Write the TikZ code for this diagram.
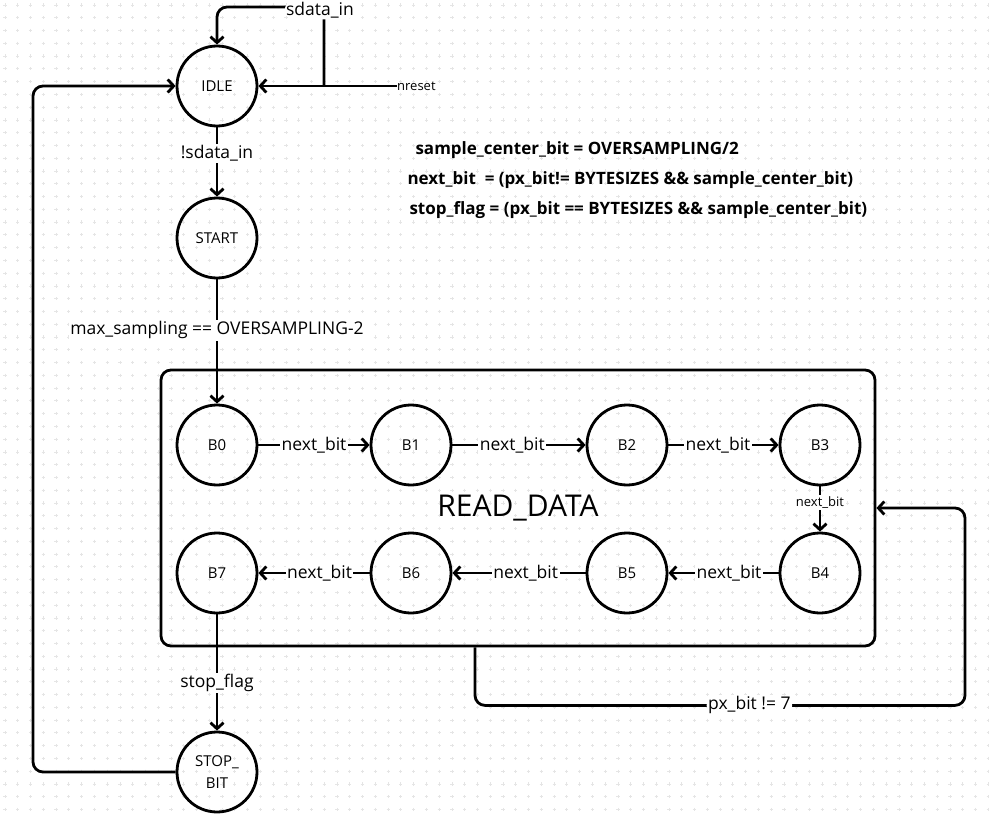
\documentclass[tikz,border=0pt]{standalone}
\usepackage{fontspec}
\setmainfont{Open Sans}
\usetikzlibrary{arrows.meta,calc}

\begin{document}
\begin{tikzpicture}[x=1pt,y=-1pt,
    state/.style={circle,draw,line width=2.8pt,minimum size=80pt,inner sep=0pt,align=center,font=\fontsize{15}{22}\selectfont},
    edge/.style={line width=2.8pt,-{Straight Barb[length=6pt,width=13pt]}},
    lbl/.style={fill=white,inner sep=1.5pt,font=\fontsize{17.5}{20}\selectfont},
    eqn/.style={anchor=west,font=\bfseries\fontsize{17}{20}\selectfont}]
    \useasboundingbox (0,0) rectangle (989,816);
    \fill[white] (0,0) rectangle (989,816);
    % dotted grid
    \draw[black!10,line width=0.8pt] \foreach \i in {0,...,77} {\foreach \j in {0,...,63} {
        ({5+12.77*\i-1.6},{5+12.77*\j}) -- ++(3.2,0) ({5+12.77*\i},{5+12.77*\j-1.6}) -- ++(0,3.2)}};
    % read data block
    \node[draw,line width=2.8pt,rounded corners=10pt,minimum width=714pt,minimum height=276pt,font=\fontsize{30}{36}\selectfont] (rd) at (518,508) {READ\_DATA};
    % states
    \node[state] (idle) at (217,86) {IDLE};
    \node[state] (start) at (217,238) {START};
    \node[state] (b0) at (217,445) {B0};
    \node[state] (b1) at (411,445) {B1};
    \node[state] (b2) at (627,445) {B2};
    \node[state] (b3) at (820,445) {B3};
    \node[state] (b4) at (820,573) {B4};
    \node[state] (b5) at (627,573) {B5};
    \node[state] (b6) at (411,573) {B6};
    \node[state] (b7) at (217,573) {B7};
    \node[state] (stop) at (217,772) {STOP\_\\BIT};
    % definitions
    \node[eqn] (eq1) at (412,150) {sample\_center\_bit = OVERSAMPLING/2};
    \node[eqn] (eq2) at (404,180) {next\_bit\ \ = (px\_bit!= BYTESIZES \&\& sample\_center\_bit)};
    \node[eqn] (eq3) at (406,210) {stop\_flag = (px\_bit == BYTESIZES \&\& sample\_center\_bit)};
    % inputs
    \node[anchor=west,inner sep=0pt,font=\fontsize{13}{15}\selectfont] (nreset) at (397,86) {nreset};
    \coordinate (sd) at (324,86);
    \coordinate (sdtop) at (217,7);
    \coordinate (ret) at (33,86);
    \draw[edge] (nreset) -- (idle);
    \draw[edge,rounded corners=10pt] (sd) |- node[lbl,pos=0.5,xshift=-4pt,yshift=-3pt] {sdata\_in} (sdtop) -- (idle);
    % transitions
    \draw[edge] (idle) -- node[lbl,pos=0.38] {!sdata\_in} (start);
    \draw[edge] (start) -- node[lbl,pos=0.41] {max\_sampling == OVERSAMPLING-2} (b0);
    \draw[edge] (b0) -- node[lbl] {next\_bit} (b1);
    \draw[edge] (b1) -- node[lbl,pos=0.45] {next\_bit} (b2);
    \draw[edge] (b2) -- node[lbl,pos=0.45] {next\_bit} (b3);
    \draw[edge] (b3) -- node[lbl,pos=0.35,font=\fontsize{13}{15}\selectfont] {next\_bit} (b4);
    \draw[edge] (b4) -- node[lbl,pos=0.45] {next\_bit} (b5);
    \draw[edge] (b5) -- node[lbl,pos=0.45] {next\_bit} (b6);
    \draw[edge] (b6) -- node[lbl,pos=0.45] {next\_bit} (b7);
    \draw[edge] (b7) -- node[lbl,pos=0.59] {stop\_flag} (stop);
    \draw[edge,rounded corners=10pt] (stop) -| (ret) -- (idle);
    \draw[edge,rounded corners=10pt] ([xshift=-43pt]rd.south) |- node[lbl,pos=0.78] {px\_bit != 7} ++(490,58) |- (rd.east);
\end{tikzpicture}
\end{document}
